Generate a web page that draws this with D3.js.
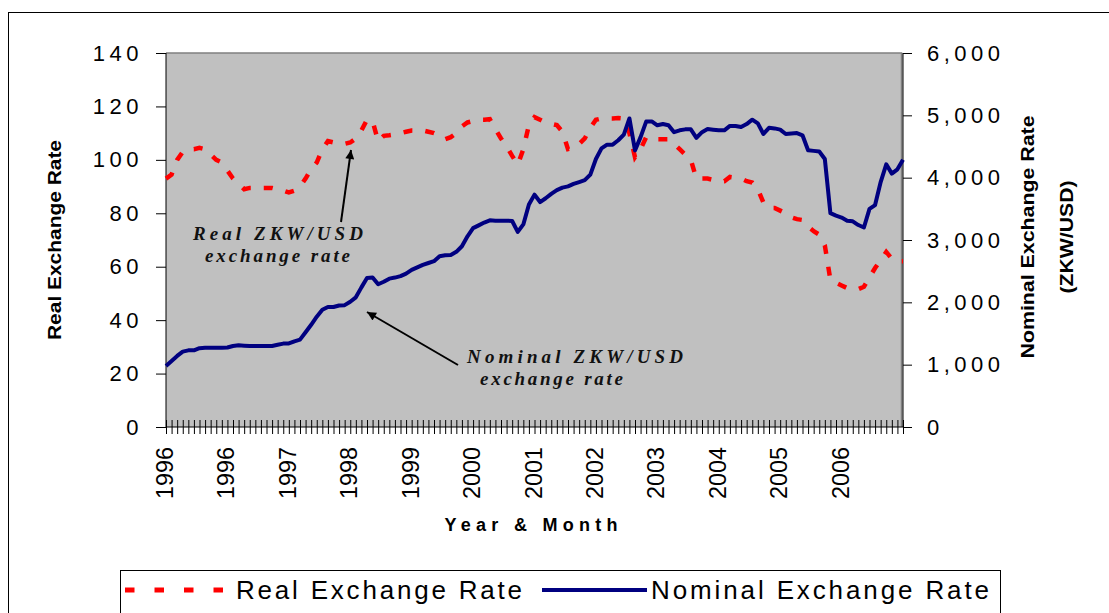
<!DOCTYPE html>
<html>
<head>
<meta charset="utf-8">
<script src="https://cdn.jsdelivr.net/npm/d3@7"></script>
<style>
  body { margin: 0; background: #fff; }
  svg { display: block; font-family: Arial, "Liberation Sans", sans-serif; }
</style>
</head>
<body>
<svg width="1109" height="613"></svg>
<script>
// Monthly series, Jan 1996 .. Jan 2007
const realRate = [
  93, 94.5, 100, 103, 104, 104, 104.5, 104, 102, 100, 99, 96,
  93, 91, 89, 89.5, 89.5, 89.5, 89.5, 89.5, 89, 88.5, 87.8, 88.5,
  90, 93, 96.5, 99, 104, 107, 106.5, 106, 106, 106.5, 108, 111,
  115, 114.5, 107, 109, 109.2, 109.5, 110, 110.5, 111, 111, 111, 110.5,
  110, 109, 107.7, 108.5, 110, 112.5, 114, 114.5, 115, 115, 115.2, 111.5,
  108, 105, 101.5, 98.2, 104, 113, 116, 115, 114, 113.5, 113, 110.5,
  104, 104.5, 106, 108, 112, 115, 115.5, 115.5, 115.5, 115.7, 115.5, 110,
  101, 104, 108.5, 108, 107.7, 107.7, 107.7, 106, 104, 102, 100, 93,
  93, 93, 92.5, 92, 92, 93.6, 93.3, 93, 92, 91.5, 89, 84,
  82, 82, 81, 80, 78.5, 77.8, 77.5, 75, 73.3, 72, 68, 55,
  54, 53, 52, 51.6, 51.6, 52.5, 56, 59.5, 62.5, 65.5, 63, 62,
  62
];
const nominalRate = [
  980, 1060, 1140, 1210, 1230, 1230, 1265, 1270, 1270, 1270, 1270, 1275,
  1300, 1310, 1305, 1300, 1300, 1300, 1300, 1300, 1320, 1338, 1340, 1375,
  1402, 1520, 1640, 1770, 1880, 1925, 1925, 1950, 1955, 2010, 2080, 2240,
  2390, 2400, 2290, 2330, 2380, 2397, 2420, 2460, 2520, 2560, 2600, 2631,
  2660, 2740, 2754, 2760, 2810, 2900, 3060, 3190, 3235, 3280, 3315, 3310,
  3310, 3310, 3305, 3130, 3250, 3570, 3728, 3609, 3670, 3740, 3800, 3840,
  3860, 3900, 3930, 3960, 4050, 4300, 4470, 4530, 4530, 4600, 4690, 4950,
  4438, 4650, 4900, 4903, 4840, 4860, 4840, 4730, 4760, 4775, 4775, 4640,
  4730, 4780, 4770, 4759, 4759, 4830, 4830, 4812, 4860, 4930, 4870, 4700,
  4800, 4790, 4770, 4700, 4710, 4716, 4680, 4440, 4430, 4420, 4300, 3430,
  3390, 3360, 3310, 3300, 3240, 3200, 3500, 3560, 3930, 4214, 4065, 4134,
  4289
];
// category labels shown on the axis, one every 11 months
const xTickLabels = ['1996', '1996', '1997', '1998', '1999', '2000', '2001', '2002', '2003', '2004', '2005', '2006'];
const labelEvery = 11;
const leftTicks = [0, 20, 40, 60, 80, 100, 120, 140];
const rightTicks = [0, 1000, 2000, 3000, 4000, 5000, 6000];

const svg = d3.select('svg');
const plot = { left: 166, right: 903, top: 53, bottom: 427 };

const x = d3.scaleLinear().domain([0, realRate.length - 1]).range([plot.left, plot.right]);
const yL = d3.scaleLinear().domain([0, 140]).range([plot.bottom, plot.top]);
const yR = d3.scaleLinear().domain([0, 6000]).range([plot.bottom, plot.top]);

// outer chart frame
svg.append('rect')
  .attr('x', 8.5).attr('y', 12.5)
  .attr('width', 1300).attr('height', 800)
  .attr('fill', 'none').attr('stroke', '#000');

// plot area
svg.append('rect')
  .attr('x', plot.left).attr('y', plot.top)
  .attr('width', plot.right - plot.left).attr('height', plot.bottom - plot.top)
  .attr('fill', '#c0c0c0');
svg.append('path')
  .attr('d', `M${plot.left},${plot.top}H${plot.right - 1.5}V${plot.bottom}`)
  .attr('fill', 'none').attr('stroke', '#808080').attr('stroke-width', 1.5);

// x ticks (crossing the axis)
const xAxis = svg.append('g')
  .attr('transform', `translate(0,${plot.bottom - 7})`)
  .call(d3.axisBottom(x).tickValues(d3.range(realRate.length)).tickSize(14).tickFormat(''));
xAxis.select('.domain').remove();
xAxis.selectAll('line').attr('stroke', '#000');

// left axis
const leftAxis = svg.append('g')
  .attr('transform', `translate(${plot.left},0)`)
  .call(d3.axisLeft(yL).tickValues(leftTicks).tickSize(10).tickPadding(13));
leftAxis.selectAll('text')
  .attr('font-size', 22).attr('letter-spacing', 4.5).attr('fill', '#000')
  .attr('font-family', 'Arial, "Liberation Sans", sans-serif');
leftAxis.selectAll('line, path').attr('stroke', '#000');
leftAxis.select('.domain').attr('d', `M0,${plot.bottom}V${plot.top}`);

// right axis
const rightAxis = svg.append('g')
  .attr('transform', `translate(${plot.right},0)`)
  .call(d3.axisRight(yR).tickValues(rightTicks).tickSize(9).tickPadding(15).tickFormat(d3.format(',')));
rightAxis.selectAll('text')
  .attr('font-size', 22).attr('letter-spacing', 4.5).attr('fill', '#000')
  .attr('font-family', 'Arial, "Liberation Sans", sans-serif');
rightAxis.selectAll('line, path').attr('stroke', '#000');
rightAxis.select('.domain').attr('d', `M0,${plot.bottom}V${plot.top}`);

// bottom axis line
svg.append('line')
  .attr('x1', plot.left).attr('x2', plot.right)
  .attr('y1', plot.bottom).attr('y2', plot.bottom)
  .attr('stroke', '#000');

// x labels, rotated
svg.append('g').selectAll('text')
  .data(xTickLabels)
  .enter()
  .append('text')
  .attr('transform', (d, i) => `translate(${x(i * labelEvery) - 1},447) rotate(-90)`)
  .attr('text-anchor', 'end')
  .attr('dy', '0.35em')
  .attr('font-size', 23)
  .attr('textLength', 52).attr('lengthAdjust', 'spacingAndGlyphs')
  .text((d) => d);

// series
const lineReal = d3.line().x((d, i) => x(i)).y((d) => yL(d));
const lineNominal = d3.line().x((d, i) => x(i)).y((d) => yR(d));

svg.append('path')
  .datum(realRate)
  .attr('d', lineReal)
  .attr('fill', 'none')
  .attr('stroke', '#ff0000')
  .attr('stroke-width', 4.5)
  .attr('stroke-dasharray', '9,13');

svg.append('path')
  .datum(nominalRate)
  .attr('d', lineNominal)
  .attr('fill', 'none')
  .attr('stroke', '#000080')
  .attr('stroke-width', 4)
  .attr('stroke-linejoin', 'round');

// axis titles
svg.append('text')
  .attr('transform', 'translate(55,240) rotate(-90)')
  .attr('text-anchor', 'middle').attr('dy', '0.35em')
  .attr('font-size', 18).attr('font-weight', 'bold')
  .attr('textLength', 200).attr('lengthAdjust', 'spacingAndGlyphs')
  .text('Real Exchange Rate');

svg.append('text')
  .attr('transform', 'translate(1028,237) rotate(-90)')
  .attr('text-anchor', 'middle').attr('dy', '0.35em')
  .attr('font-size', 18).attr('font-weight', 'bold')
  .attr('textLength', 243).attr('lengthAdjust', 'spacingAndGlyphs')
  .text('Nominal Exchange Rate');

svg.append('text')
  .attr('transform', 'translate(1067,237) rotate(-90)')
  .attr('text-anchor', 'middle').attr('dy', '0.35em')
  .attr('font-size', 18).attr('font-weight', 'bold')
  .attr('textLength', 113).attr('lengthAdjust', 'spacingAndGlyphs')
  .text('(ZKW/USD)');

svg.append('text')
  .attr('x', 531).attr('y', 531)
  .attr('text-anchor', 'middle')
  .attr('font-size', 18).attr('font-weight', 'bold')
  .attr('textLength', 173).attr('lengthAdjust', 'spacing')
  .text('Year & Month');

// annotations
const notes = [
  { text: 'Real ZKW/USD', x: 193, y: 240, w: 170 },
  { text: 'exchange rate', x: 205, y: 262, w: 145 },
  { text: 'Nominal ZKW/USD', x: 467, y: 363, w: 216 },
  { text: 'exchange rate', x: 480, y: 385, w: 143 }
];
svg.append('g').selectAll('text')
  .data(notes)
  .enter()
  .append('text')
  .attr('x', (d) => d.x).attr('y', (d) => d.y)
  .attr('font-family', '"Times New Roman", "Liberation Serif", serif')
  .attr('font-size', 19).attr('font-weight', 'bold').attr('font-style', 'italic')
  .attr('fill', '#111')
  .attr('textLength', (d) => d.w).attr('lengthAdjust', 'spacing')
  .text((d) => d.text);

svg.append('defs').append('marker')
  .attr('id', 'arrow')
  .attr('viewBox', '0 0 10 10')
  .attr('refX', 10).attr('refY', 5)
  .attr('markerWidth', 11).attr('markerHeight', 9)
  .attr('markerUnits', 'userSpaceOnUse')
  .attr('orient', 'auto')
  .append('path').attr('d', 'M0,0L10,5L0,10Z').attr('fill', '#000');

const arrows = [
  { x1: 341, y1: 222, x2: 351, y2: 150 },
  { x1: 458, y1: 365, x2: 367, y2: 312 }
];
svg.append('g').selectAll('line')
  .data(arrows)
  .enter()
  .append('line')
  .attr('x1', (d) => d.x1).attr('y1', (d) => d.y1)
  .attr('x2', (d) => d.x2).attr('y2', (d) => d.y2)
  .attr('stroke', '#000').attr('stroke-width', 2)
  .attr('marker-end', 'url(#arrow)');

// legend
const legend = svg.append('g');
legend.append('rect')
  .attr('x', 120.5).attr('y', 570.5)
  .attr('width', 880).attr('height', 80)
  .attr('fill', '#fff').attr('stroke', '#000');
legend.append('line')
  .attr('x1', 125).attr('x2', 223).attr('y1', 590).attr('y2', 590)
  .attr('stroke', '#ff0000').attr('stroke-width', 5)
  .attr('stroke-dasharray', '9.5,20');
legend.append('text')
  .attr('x', 236).attr('y', 599)
  .attr('font-size', 26)
  .attr('textLength', 286).attr('lengthAdjust', 'spacing')
  .text('Real Exchange Rate');
legend.append('line')
  .attr('x1', 542).attr('x2', 647).attr('y1', 590).attr('y2', 590)
  .attr('stroke', '#000080').attr('stroke-width', 4);
legend.append('text')
  .attr('x', 651).attr('y', 599)
  .attr('font-size', 26)
  .attr('textLength', 338).attr('lengthAdjust', 'spacing')
  .text('Nominal Exchange Rate');
</script>
</body>
</html>
